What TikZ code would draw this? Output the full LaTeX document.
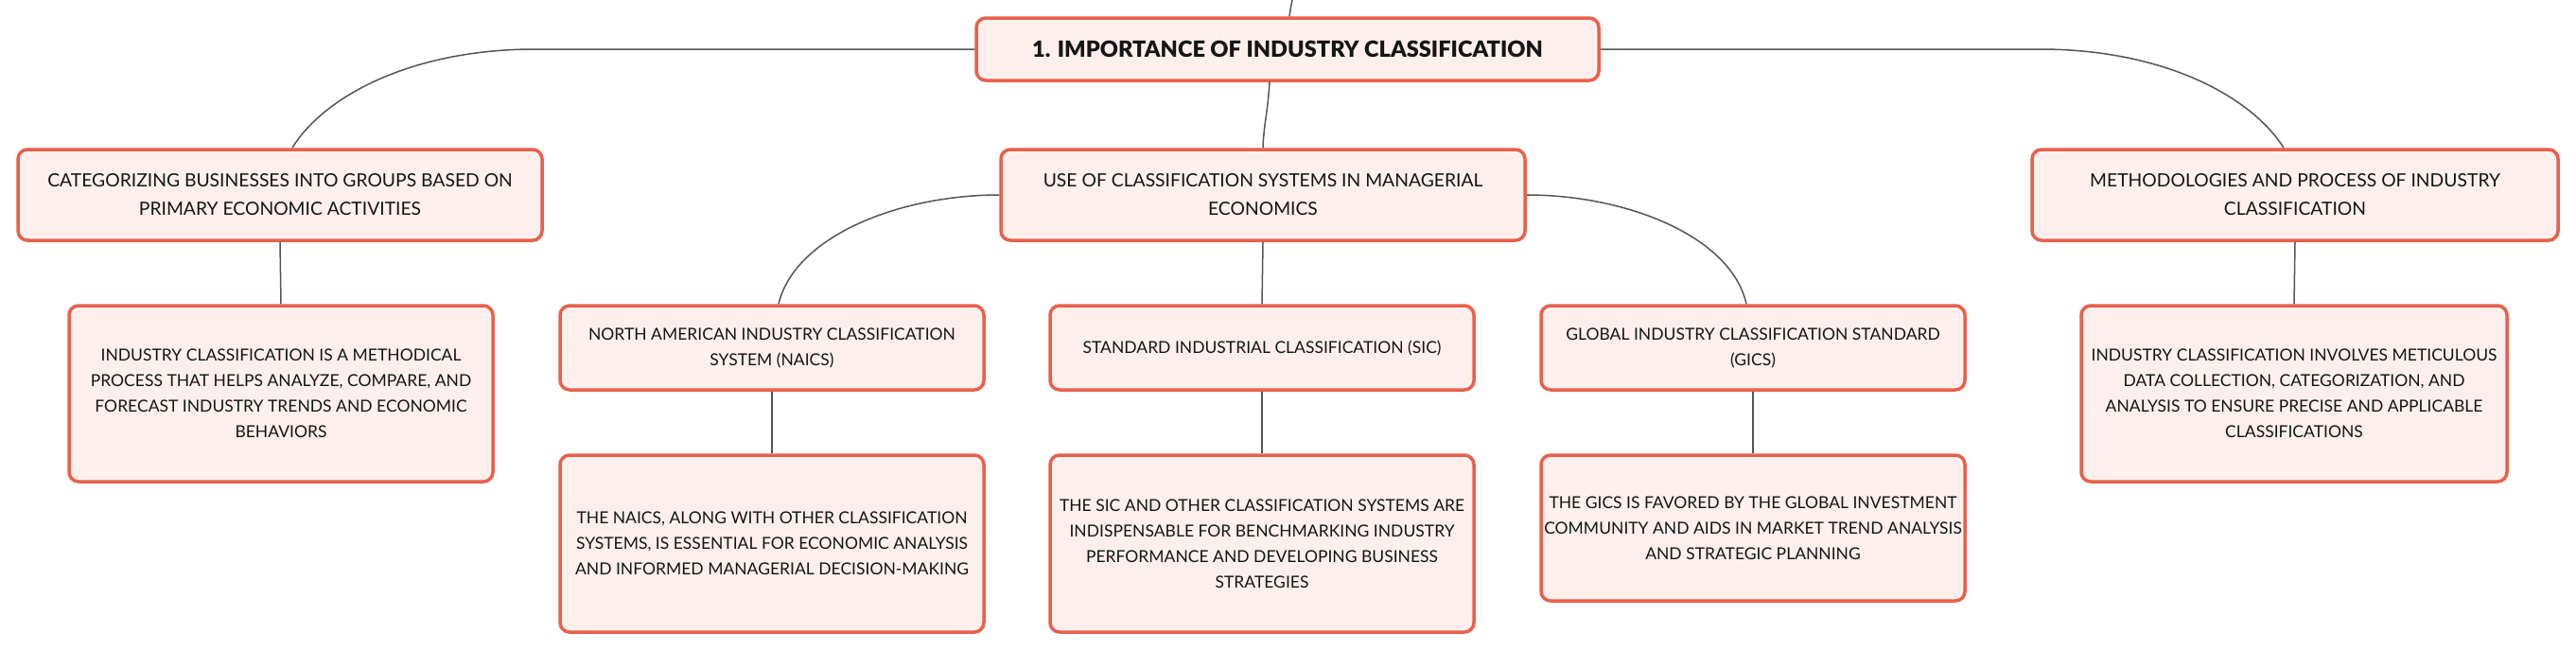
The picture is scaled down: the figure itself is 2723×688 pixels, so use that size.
\documentclass[tikz,border=0pt]{standalone}
\usepackage{fontspec}
\setmainfont{Lato}
\newfontfamily\titlefont{Lato Black}
\definecolor{boxfill}{HTML}{FDF0EC}
\definecolor{boxline}{HTML}{E8604C}
\definecolor{conn}{HTML}{555555}
\definecolor{txt}{HTML}{151515}
\begin{document}
\begin{tikzpicture}[x=1pt,y=-1pt,
  box/.style={draw=boxline, fill=boxfill, line width=3.5pt, rounded corners=10pt,
    inner sep=0pt, align=center, text=txt,
    font=\fontsize{17.5}{27}\selectfont},
  wide/.style={box, minimum width=554pt, minimum height=96pt, font=\fontsize{19.3}{30}\selectfont},
  mid/.style={box, minimum width=448pt, minimum height=89pt},
  conn/.style={draw=conn, line width=1.5pt}
]
\useasboundingbox (0,0) rectangle (2723,688);
\fill[white] (0,0) rectangle (2723,688);

\node[box, minimum width=658pt, minimum height=66pt, font=\fontsize{23.6}{30}\selectfont\titlefont] (top) at (1361,52) {1. IMPORTANCE OF INDUSTRY CLASSIFICATION};

\node[wide] (L) at (296,206) {CATEGORIZING BUSINESSES INTO GROUPS BASED ON\\PRIMARY ECONOMIC ACTIVITIES};
\node[wide] (M) at (1335,206) {USE OF CLASSIFICATION SYSTEMS IN MANAGERIAL\\ECONOMICS};
\node[wide, minimum width=556pt] (R) at (2426,206) {METHODOLOGIES AND PROCESS OF INDUSTRY\\CLASSIFICATION};

\node[box, minimum width=448pt, minimum height=186pt] (Lc) at (297,416) {INDUSTRY CLASSIFICATION IS A METHODICAL\\PROCESS THAT HELPS ANALYZE, COMPARE, AND\\FORECAST INDUSTRY TRENDS AND ECONOMIC\\BEHAVIORS};
\node[box, minimum width=450pt, minimum height=186pt] (Rc) at (2425,416) {INDUSTRY CLASSIFICATION INVOLVES METICULOUS\\DATA COLLECTION, CATEGORIZATION, AND\\ANALYSIS TO ENSURE PRECISE AND APPLICABLE\\CLASSIFICATIONS};

\node[mid] (naics) at (816,367.5) {NORTH AMERICAN INDUSTRY CLASSIFICATION\\SYSTEM (NAICS)};
\node[mid] (sic) at (1334,367.5) {STANDARD INDUSTRIAL CLASSIFICATION (SIC)};
\node[mid] (gics) at (1853,367.5) {GLOBAL INDUSTRY CLASSIFICATION STANDARD\\(GICS)};

\node[box, minimum width=448pt, minimum height=187pt] (naicsc) at (816,574.5) {THE NAICS, ALONG WITH OTHER CLASSIFICATION\\SYSTEMS, IS ESSENTIAL FOR ECONOMIC ANALYSIS\\AND INFORMED MANAGERIAL DECISION-MAKING};
\node[box, minimum width=448pt, minimum height=187pt] (sicc) at (1334,574.5) {THE SIC AND OTHER CLASSIFICATION SYSTEMS ARE\\INDISPENSABLE FOR BENCHMARKING INDUSTRY\\PERFORMANCE AND DEVELOPING BUSINESS\\STRATEGIES};
\node[box, minimum width=448pt, minimum height=154pt] (gicsc) at (1853,558) {THE GICS IS FAVORED BY THE GLOBAL INVESTMENT\\COMMUNITY AND AIDS IN MARKET TREND ANALYSIS\\AND STRATEGIC PLANNING};

\coordinate (topin) at (1366,0);
\coordinate (lbend) at (566,52);
\coordinate (rbend) at (2156,52);

\draw[conn] ([xshift=2pt]top.north) .. controls (1364,10) .. (topin);
\draw[conn] (top.west) -- (lbend) .. controls (430,52) and (340,105) .. ([xshift=13pt]L.north);
\draw[conn] (top.east) -- (rbend) .. controls (2292,52) and (2382,105) .. ([xshift=-12pt]R.north);
\draw[conn] ([xshift=-19pt]top.south) .. controls (1340,120) and (1336,130) .. (M.north);
\draw[conn] (M.west) .. controls (950,206) and (840,250) .. ([xshift=7pt]naics.north);
\draw[conn] (M.east) .. controls (1720,206) and (1830,250) .. ([xshift=-7pt]gics.north);
\draw[conn] (M.south) -- (sic.north);
\draw[conn] (L.south) -- (Lc.north);
\draw[conn] (R.south) -- (Rc.north);
\draw[conn] (naics.south) -- (naicsc.north);
\draw[conn] (sic.south) -- (sicc.north);
\draw[conn] (gics.south) -- (gicsc.north);
\end{tikzpicture}
\end{document}
